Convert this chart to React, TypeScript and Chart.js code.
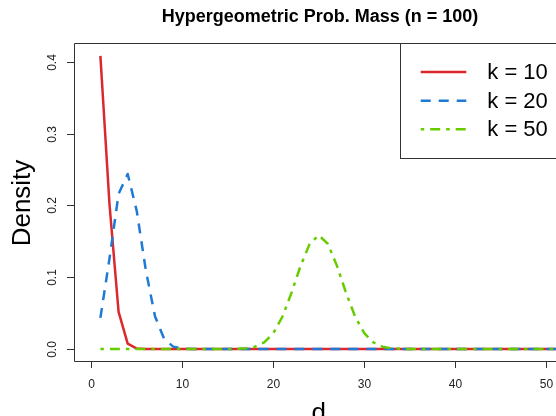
import { useEffect, useRef } from "react";
import { Chart, registerables } from "chart.js";

Chart.register(...registerables);

// ---- data ----
const d = [
  1, 2, 3, 4, 5, 6, 7, 8, 9, 10,
  11, 12, 13, 14, 15, 16, 17, 18, 19, 20,
  21, 22, 23, 24, 25, 26, 27, 28, 29, 30,
  31, 32, 33, 34, 35, 36, 37, 38, 39, 40,
  41, 42, 43, 44, 45, 46, 47, 48, 49, 50,
  51, 52,
];

const k10 = [
  0.408, 0.2015, 0.0518, 0.00755, 0.00064, 0.000031, 0.0000008, 0, 0, 0,
  0, 0, 0, 0, 0, 0, 0, 0, 0, 0,
  0, 0, 0, 0, 0, 0, 0, 0, 0, 0,
  0, 0, 0, 0, 0, 0, 0, 0, 0, 0,
  0, 0, 0, 0, 0, 0, 0, 0, 0, 0,
  0, 0,
];

const k20 = [
  0.0433, 0.1259, 0.2159, 0.2437, 0.192, 0.1091, 0.0456, 0.0142, 0.0033, 0.00057,
  0.000073, 0.0000068, 0.0000005, 0, 0, 0, 0, 0, 0, 0,
  0, 0, 0, 0, 0, 0, 0, 0, 0, 0,
  0, 0, 0, 0, 0, 0, 0, 0, 0, 0,
  0, 0, 0, 0, 0, 0, 0, 0, 0, 0,
  0, 0,
];

const k50 = [
  0, 0, 0, 0, 0, 0, 0, 0, 0, 0,
  0, 0, 0.0000013, 0.0000087, 0.00005, 0.00024, 0.00096, 0.00323, 0.00916, 0.022,
  0.0449, 0.0781, 0.1157, 0.1464, 0.1584, 0.1464, 0.1157, 0.0781, 0.0449, 0.022,
  0.00916, 0.00323, 0.00096, 0.00024, 0.00005, 0.0000087, 0.0000013, 0, 0, 0,
  0, 0, 0, 0, 0, 0, 0, 0, 0, 0,
  0, 0,
];

const seriesLabels = ["k = 10", "k = 20", "k = 50"];
const xTicks = [0, 10, 20, 30, 40, 50];
const xTickLabels = ["0", "10", "20", "30", "40", "50"];
const yTicks = [0, 0.1, 0.2, 0.3, 0.4];
const yTickLabels = ["0.0", "0.1", "0.2", "0.3", "0.4"];
const titleText = "Hypergeometric Prob. Mass (n = 100)";
const xLabel = "d";
const yLabel = "Density";

// ---- styles ----
const RED = "#DC282D";
const BLUE = "#1F7AD6";
const GREEN = "#66CC00";
const colors = [RED, BLUE, GREEN];
const dashes: number[][] = [[], [10, 8], [3.5, 6, 10, 6]];
const FONT = '"Liberation Sans", Arial, Helvetica, sans-serif';
const AXIS = "#333333";

const decor = {
  id: "decor",
  afterDraw(chart: any) {
    const ctx = chart.ctx as CanvasRenderingContext2D;
    const { left, top, right, bottom } = chart.chartArea;
    const xs = chart.scales.x;
    const ys = chart.scales.y;
    ctx.save();

    // plot box
    ctx.strokeStyle = AXIS;
    ctx.lineWidth = 1;
    ctx.setLineDash([]);
    ctx.beginPath();
    ctx.moveTo(right + 20, top + 0.5);
    ctx.lineTo(left + 0.5, top + 0.5);
    ctx.lineTo(left + 0.5, bottom + 0.5);
    ctx.lineTo(right + 20, bottom + 0.5);
    ctx.stroke();

    // x ticks
    ctx.fillStyle = "#222";
    ctx.font = `12px ${FONT}`;
    ctx.textAlign = "center";
    ctx.textBaseline = "alphabetic";
    xTicks.forEach((v, i) => {
      const px = Math.round(xs.getPixelForValue(v)) + 0.5;
      ctx.beginPath();
      ctx.moveTo(px, bottom + 0.5);
      ctx.lineTo(px, bottom + 7);
      ctx.stroke();
      ctx.fillText(xTickLabels[i], px, 387.5);
    });

    // y ticks
    yTicks.forEach((v, i) => {
      const py = Math.round(ys.getPixelForValue(v)) + 0.5;
      ctx.beginPath();
      ctx.moveTo(left + 0.5, py);
      ctx.lineTo(left - 7, py);
      ctx.stroke();
      ctx.save();
      ctx.translate(55.5, py);
      ctx.rotate(-Math.PI / 2);
      ctx.textAlign = "center";
      ctx.textBaseline = "alphabetic";
      ctx.fillText(yTickLabels[i], 0, 0);
      ctx.restore();
    });

    // title
    ctx.fillStyle = "#000";
    ctx.font = `bold 18px ${FONT}`;
    ctx.textAlign = "center";
    ctx.textBaseline = "alphabetic";
    ctx.fillText(titleText, 320, 22);

    // axis labels
    ctx.font = `26px ${FONT}`;
    ctx.fillText(xLabel, 318.7, 421);
    ctx.save();
    ctx.translate(30, 203);
    ctx.rotate(-Math.PI / 2);
    ctx.textAlign = "center";
    ctx.fillText(yLabel, 0, 0);
    ctx.restore();

    // legend
    const lx = 400.5;
    const ly = top + 0.5;
    ctx.strokeStyle = AXIS;
    ctx.lineWidth = 1;
    ctx.setLineDash([]);
    ctx.strokeRect(lx, ly, 220, 115);
    const rowY = [72, 100.7, 129.3];
    seriesLabels.forEach((lab, i) => {
      ctx.strokeStyle = colors[i];
      ctx.lineWidth = 2.5;
      ctx.setLineDash(dashes[i]);
      ctx.lineCap = "butt";
      ctx.beginPath();
      ctx.moveTo(420.7, rowY[i]);
      ctx.lineTo(466.3, rowY[i]);
      ctx.stroke();
      ctx.setLineDash([]);
      ctx.fillStyle = "#000";
      ctx.font = `22px ${FONT}`;
      ctx.textAlign = "left";
      ctx.textBaseline = "middle";
      ctx.fillText(lab, 487.3, rowY[i] + 1);
    });

    ctx.restore();
  },
};

export default function App() {
  const ref = useRef<HTMLCanvasElement | null>(null);

  useEffect(() => {
    if (!ref.current) return;
    const series = [k10, k20, k50];
    const orders = [3, 2, 1];
    const chart = new Chart(ref.current, {
      type: "line",
      data: {
        datasets: series.map((s, i) => ({
          label: seriesLabels[i],
          data: d.map((x, j) => ({ x, y: s[j] })),
          borderColor: colors[i],
          backgroundColor: colors[i],
          borderWidth: 2.5,
          borderDash: dashes[i],
          borderJoinStyle: "round" as const,
          borderCapStyle: "butt" as const,
          pointRadius: 0,
          fill: false,
          tension: 0,
          order: orders[i],
        })),
      },
      options: {
        responsive: false,
        animation: false,
        events: [],
        layout: { padding: { left: 74, top: 43, right: 0, bottom: 55 } },
        scales: {
          x: { type: "linear", min: -1.9, max: 51.07, display: false },
          y: { type: "linear", min: -0.0167, max: 0.426, display: false },
        },
        plugins: {
          legend: { display: false },
          tooltip: { enabled: false },
          title: { display: false },
        },
      },
      plugins: [decor],
    });
    return () => chart.destroy();
  }, []);

  return (
    <div style={{ position: "absolute", left: 0, top: 0, width: 556, height: 416, overflow: "hidden", background: "#fff" }}>
      <canvas ref={ref} width={556} height={416} style={{ display: "block", width: 556, height: 416 }} />
    </div>
  );
}
